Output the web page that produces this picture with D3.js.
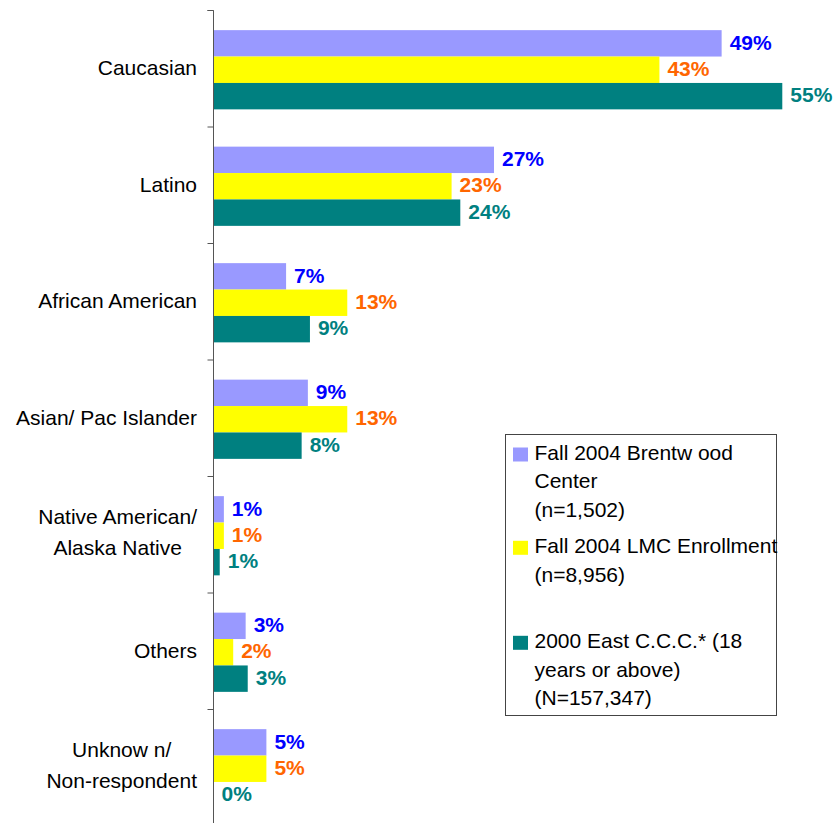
<!DOCTYPE html>
<html>
<head>
<meta charset="utf-8">
<script src="https://cdn.jsdelivr.net/npm/d3@7/dist/d3.min.js"></script>
<style>
  html, body { margin: 0; padding: 0; background: #fff; }
  svg { display: block; }
  text { font-family: "Liberation Sans", Arial, sans-serif; }
</style>
</head>
<body>
<svg id="chart" width="837" height="823"></svg>
<script>
// ---- data ----
const categories = [
  ["Caucasian"],
  ["Latino"],
  ["African American"],
  ["Asian/ Pac Islander"],
  ["Native American/", "Alaska Native"],
  ["Others"],
  ["Unknow n/", "Non-respondent"]
];
const seriesNames = ["Fall 2004 Brentwood Center", "Fall 2004 LMC Enrollment", "2000 East C.C.C."];
const brentwood = [49.0, 27.05, 7.0, 9.1, 1.0, 3.1, 5.1];
const lmc       = [43.0, 22.96, 12.9, 12.9, 1.0, 1.9, 5.1];
const eastccc   = [54.85, 23.8, 9.3, 8.5, 0.6, 3.3, 0.0];
const labelsBrentwood = ["49%", "27%", "7%", "9%", "1%", "3%", "5%"];
const labelsLmc       = ["43%", "23%", "13%", "13%", "1%", "2%", "5%"];
const labelsEast      = ["55%", "24%", "9%", "8%", "1%", "3%", "0%"];
const legendLines = [
  ["Fall 2004 Brentw ood", "Center", "(n=1,502)"],
  ["Fall 2004 LMC Enrollment", "(n=8,956)"],
  ["2000 East C.C.C.* (18", "years or above)", "(N=157,347)"]
];
const barColors = ["#9999FF", "#FFFF00", "#008080"];
const labelColors = ["#0000FF", "#FF6600", "#008080"];

// ---- chart ----
const svg = d3.select("#chart");
const x0 = 213.5;
const x = d3.scaleLinear().domain([0, 60]).range([x0, x0 + 60 * 10.37]);
const catIdx = d3.range(categories.length);
const y = d3.scaleBand().domain(catIdx).range([10, 825.5]).paddingInner(0.32).paddingOuter(0.16);
const ySub = d3.scaleBand().domain([0, 1, 2]).range([0, y.bandwidth()]);

const series = [
  {vals: brentwood, labels: labelsBrentwood},
  {vals: lmc, labels: labelsLmc},
  {vals: eastccc, labels: labelsEast}
];

const groups = svg.selectAll("g.cat").data(catIdx).join("g")
  .attr("class", "cat")
  .attr("transform", i => `translate(0,${y(i) + 1.5})`);

series.forEach((s, si) => {
  groups.append("rect")
    .attr("x", x(0))
    .attr("y", ySub(si))
    .attr("width", i => x(s.vals[i]) - x(0))
    .attr("height", ySub.bandwidth())
    .attr("fill", barColors[si]);
  groups.append("text")
    .attr("x", i => x(s.vals[i]) + 8)
    .attr("y", ySub(si) + ySub.bandwidth() / 2 + 6.2)
    .attr("fill", labelColors[si])
    .attr("font-size", 21)
    .attr("font-weight", "bold")
    .text(i => s.labels[i]);
});

// axis
const yAxisScale = d3.scaleLinear().domain([0, categories.length]).range([10, 825.5]);
const axis = d3.axisLeft(yAxisScale).ticks(categories.length).tickSize(6).tickFormat("");
const axG = svg.append("g").attr("transform", `translate(${x0},0)`).call(axis);
axG.select(".domain").attr("stroke", "#555").attr("d", "M-6,10.5H0V830");
axG.selectAll(".tick line").attr("stroke", "#555");

// category labels
categories.forEach((lines, i) => {
  const cy = y(i) + y.bandwidth() / 2 + 1.5;
  if (lines.length === 1) {
    svg.append("text")
      .attr("x", 197).attr("y", cy + 5.5)
      .attr("text-anchor", "end")
      .attr("font-size", 21).attr("fill", "#000")
      .text(lines[0]);
  } else {
    const g = svg.append("g");
    const ts = lines.map((l, k) => g.append("text")
      .attr("y", cy + 3.5 - 15.25 + k * 30.5)
      .attr("font-size", 21).attr("fill", "#000")
      .attr("text-anchor", "middle")
      .text(l));
    const w = d3.max(ts, t => t.node().getComputedTextLength());
    ts.forEach(t => t.attr("x", 197 - w / 2));
  }
});

// legend
const lg = svg.append("g");
lg.append("rect").attr("x", 505.5).attr("y", 434.5).attr("width", 271).attr("height", 281)
  .attr("fill", "#fff").attr("stroke", "#444").attr("stroke-width", 1);
const legendBaselines = [460, 553.3, 648.3];
legendLines.forEach((lines, si) => {
  const b = legendBaselines[si];
  lg.append("rect").attr("x", 513).attr("y", b - 12.5).attr("width", 15).attr("height", 14)
    .attr("fill", barColors[si]);
  lines.forEach((l, k) => {
    lg.append("text").attr("x", 534.5).attr("y", b + k * 28.3)
      .attr("font-size", 21).attr("fill", "#000").text(l);
  });
});
</script>
</body>
</html>
